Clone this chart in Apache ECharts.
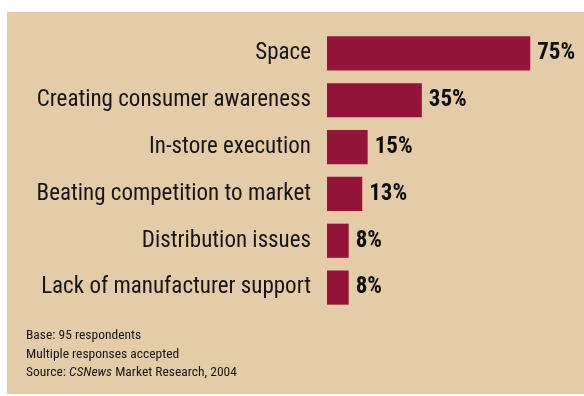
<!DOCTYPE html>
<html>
<head>
<meta charset="utf-8">
<script src="https://cdn.jsdelivr.net/npm/echarts@6/dist/echarts.min.js"></script>
<style>
  html, body { margin: 0; padding: 0; background: #ffffff; }
  #chart { width: 584px; height: 396px; }
</style>
</head>
<body>
<div id="chart"></div>
<script>
// Retail challenges, share of respondents (%)
const categories = [
  'Space',
  'Creating consumer awareness',
  'In-store execution',
  'Beating competition to market',
  'Distribution issues',
  'Lack of manufacturer support'
];
const values = [75, 35, 15, 13, 8, 8];
const notes = [
  'Base: 95 respondents',
  'Multiple responses accepted'
];

const FONT = '"Roboto Condensed", "DejaVu Sans Condensed", sans-serif';
const BAR = '#93153a';
const PANEL = '#e4cca8';
const INK = '#151515';

const chart = echarts.init(document.getElementById('chart'), null, { renderer: 'canvas' });

chart.setOption({
  backgroundColor: '#ffffff',
  animation: false,
  graphic: [
    {
      type: 'rect', z: -10, silent: true,
      shape: { x: 7, y: 12, width: 577, height: 382 },
      style: { fill: PANEL }
    },
    {
      type: 'text', left: 26, top: 329,
      style: {
        text: notes.map(n => '{n|' + n + '}').join('\n') + '\n{n|Source: }{i|CSNews}{n| Market Research, 2004}',
        rich: {
          n: { fontFamily: FONT, fontSize: 13.5, fill: INK, lineHeight: 18.5 },
          i: { fontFamily: FONT, fontSize: 13.5, fontStyle: 'italic', fill: INK, lineHeight: 18.5 }
        }
      }
    }
  ],
  grid: {
    left: 327, top: 30, width: 271, height: 281,
    containLabel: false, outerBoundsMode: 'none'
  },
  xAxis: {
    type: 'value', min: 0, max: 100,
    show: false
  },
  yAxis: {
    type: 'category', data: categories, inverse: true,
    axisLine: { show: false }, axisTick: { show: false }, splitLine: { show: false },
    axisLabel: {
      margin: 16, color: INK, fontFamily: FONT, fontSize: 23
    }
  },
  series: [{
    type: 'bar',
    data: values,
    barCategoryGap: '27%',
    itemStyle: { color: BAR },
    label: {
      show: true, position: 'right', distance: 7,
      formatter: '{c}%',
      color: '#0d0d0d', fontFamily: FONT, fontSize: 23, fontWeight: 'bold'
    }
  }]
});
</script>
</body>
</html>
